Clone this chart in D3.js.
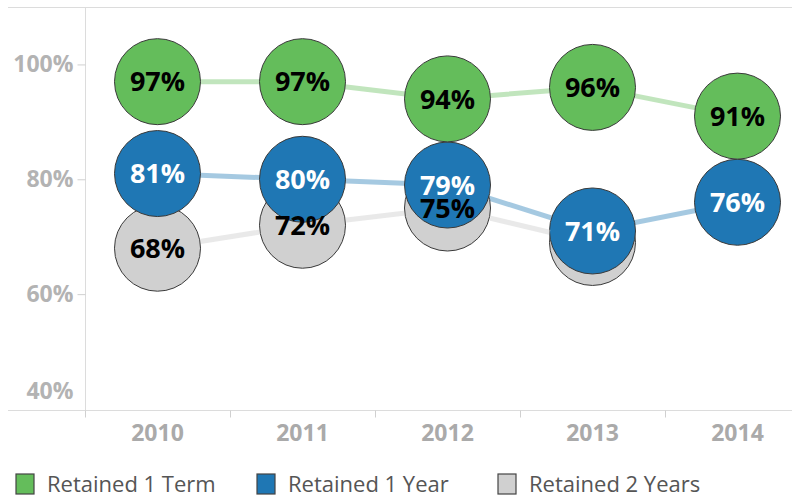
<!DOCTYPE html>
<html>
<head>
<meta charset="utf-8">
<script src="https://cdn.jsdelivr.net/npm/d3@7"></script>
<style>
  html, body { margin: 0; padding: 0; background: #fff; }
  #chart { width: 792px; height: 501px; }
</style>
</head>
<body>
<div id="chart"></div>
<script>
const years = ["2010", "2011", "2012", "2013", "2014"];
const retained1Term = [0.97, 0.97, 0.94, 0.96, 0.91];
const retained1Year = [0.81, 0.80, 0.79, 0.71, 0.76];
const retained2Years = [0.68, 0.72, 0.75, 0.69, null];
// the 2013 "2 years" label is hidden behind the blue mark in the original
const hidden2YearLabels = ["2013"];
const yTicks = [0.4, 0.6, 0.8, 1.0];

const seriesNames = ["Retained 1 Term", "Retained 1 Year", "Retained 2 Years"];
const seriesColors = ["#64bd5b", "#1f77b4", "#d0d0d0"];
const labelColors = ["#000", "#fff", "#000"];

const width = 792;
const height = 501;
const marginLeft = 85;
const marginTop = 7;
const plotBottom = 409;

const svg = d3.select("#chart")
    .append("svg")
    .attr("width", width)
    .attr("height", height);

// scales
const x = d3.scaleBand()
    .domain(years)
    .range([marginLeft, marginLeft + 145 * years.length]);

const y = d3.scaleLinear()
    .domain([0.4, 1.1])
    .range([plotBottom, marginTop]);

// frame lines
svg.append("line")
    .attr("x1", 8).attr("x2", width)
    .attr("y1", marginTop + 0.5).attr("y2", marginTop + 0.5)
    .attr("stroke", "#dcdcdc");

// y axis
const yAxis = svg.append("g")
    .attr("transform", `translate(${marginLeft + 0.5},0)`)
    .call(d3.axisLeft(y).tickValues(yTicks).tickFormat(d3.format(".0%")).tickSize(8).tickPadding(4));
yAxis.select(".domain").attr("stroke", "#dcdcdc").attr("d", `M0,${marginTop}V${plotBottom + 1}`);
yAxis.selectAll(".tick line").attr("stroke", "#d0d0d0");
yAxis.selectAll(".tick text")
    .attr("fill", "#b3b3b3")
    .style("font-family", "'Open Sans', sans-serif")
    .style("font-weight", "bold")
    .style("font-size", "23px");
// bottom tick label is pushed up inside the plot like the original
yAxis.selectAll(".tick").filter(d => d === 0.4)
    .call(t => t.select("line").remove())
    .select("text").attr("dy", "-0.45em");

// x axis
const xAxis = svg.append("g")
    .attr("transform", `translate(0,${plotBottom + 1.5})`)
    .call(d3.axisBottom(x).tickSize(0).tickPadding(14));
xAxis.select(".domain").attr("stroke", "#dcdcdc").attr("d", `M8,0H${width}`);
xAxis.selectAll(".tick text")
    .attr("fill", "#aaaaaa")
    .style("font-family", "'Open Sans', sans-serif")
    .style("font-weight", "bold")
    .style("font-size", "23px");

// separators between the year bands
xAxis.selectAll(".sep")
    .data(years)
    .enter()
    .append("line")
    .attr("x1", d => x(d) + 0.5)
    .attr("x2", d => x(d) + 0.5)
    .attr("y1", 0)
    .attr("y2", 7)
    .attr("stroke", "#d0d0d0");

const series = [retained1Term, retained1Year, retained2Years].map((vals, i) => ({
    name: seriesNames[i],
    color: seriesColors[i],
    labelColor: labelColors[i],
    points: years.map((yr, j) => ({ year: yr, value: vals[j] })).filter(p => p.value !== null)
}));

const line = d3.line()
    .x(d => x(d.year) + x.bandwidth() / 2)
    .y(d => y(d.value));

const r = 43;

// lines of the first two series sit under the circles
svg.append("g")
    .selectAll("path")
    .data(series.slice(0, 2))
    .enter()
    .append("path")
    .attr("fill", "none")
    .attr("stroke", d => d.color)
    .attr("stroke-opacity", 0.4)
    .attr("stroke-width", 5)
    .attr("d", d => line(d.points));

// circles, grey at the back and green on top
const drawOrder = [series[2], series[1], series[0]];
const circles = svg.append("g");
drawOrder.forEach(s => {
    circles.append("g")
        .selectAll("circle")
        .data(s.points)
        .enter()
        .append("circle")
        .attr("cx", d => x(d.year) + x.bandwidth() / 2)
        .attr("cy", d => y(d.value))
        .attr("r", r)
        .attr("fill", s.color)
        .attr("stroke", "#3a3a3a")
        .attr("stroke-width", 1);
});

// grey line runs over the blue circles but not over its own circles
const mask = svg.append("defs").append("mask").attr("id", "greyMask");
mask.append("rect").attr("width", width).attr("height", height).attr("fill", "#fff");
mask.selectAll("circle")
    .data(series[2].points)
    .enter()
    .append("circle")
    .attr("cx", d => x(d.year) + x.bandwidth() / 2)
    .attr("cy", d => y(d.value))
    .attr("r", r + 1)
    .attr("fill", "#000");

svg.append("path")
    .datum(series[2].points)
    .attr("fill", "none")
    .attr("stroke", "#d4d4d4")
    .attr("stroke-opacity", 0.5)
    .attr("stroke-width", 5)
    .attr("mask", "url(#greyMask)")
    .attr("d", line);

// value labels
drawOrder.forEach(s => {
    const pts = s === series[2]
        ? s.points.filter(p => !hidden2YearLabels.includes(p.year))
        : s.points;
    svg.append("g")
        .selectAll("text")
        .data(pts)
        .enter()
        .append("text")
        .attr("x", d => x(d.year) + x.bandwidth() / 2)
        .attr("y", d => y(d.value))
        .attr("dy", "0.36em")
        .attr("text-anchor", "middle")
        .attr("fill", s.labelColor)
        .style("font-family", "'Open Sans', sans-serif")
        .style("font-weight", "bold")
        .style("font-size", "27px")
        .text(d => d3.format(".0%")(d.value));
});

// legend
const legend = svg.append("g")
    .selectAll("g")
    .data(series)
    .enter()
    .append("g")
    .attr("transform", (d, i) => `translate(${16 + i * 241},474)`);

legend.append("rect")
    .attr("width", 18)
    .attr("height", 20)
    .attr("fill", d => d.color)
    .attr("stroke", "#444")
    .attr("stroke-width", 1.2);

legend.append("text")
    .attr("x", 31)
    .attr("y", 10)
    .attr("dy", "0.36em")
    .attr("fill", "#555")
    .style("font-family", "'Open Sans', sans-serif")
    .style("font-size", "22px")
    .text(d => d.name);
</script>
</body>
</html>
